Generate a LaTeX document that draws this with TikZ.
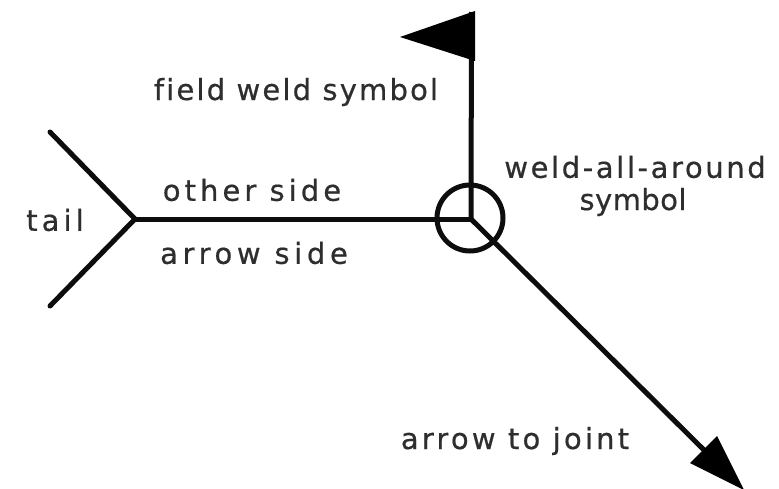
\documentclass[tikz,border=0pt]{standalone}
\usepackage{fontspec}
\setmainfont[Ligatures=NoCommon]{DejaVu Sans}
\newcommand{\spaced}[1]{\addfontfeature{LetterSpace=#1,FakeBold=0.6}}
\begin{document}
\begin{tikzpicture}[x=1pt,y=-1pt,
  weld/.style={line width=5pt,draw=black!95},
  lbl/.style={inner sep=0pt,font=\fontsize{29}{32}\selectfont,text=black!82,anchor=center},
  tip/.style={fill=black,draw=none}]
\useasboundingbox (0,0) rectangle (779,488);
\coordinate (center) at (471,219);
\coordinate (fork) at (135,219);
\coordinate (tailtop) at (50,132);
\coordinate (tailbot) at (50,306);
\coordinate (pole) at (471.5,12);
\coordinate (poleflagtop) at (475,11);
\coordinate (poleflag) at (475,61);
\coordinate (flagtip) at (400,37);
\coordinate (arrowend) at (744,490);
\coordinate (arrowbase) at (704,450);
\draw[weld,line cap=round] (tailtop) -- (fork) -- (tailbot);
\draw[weld] (fork) -- (center);
\draw[weld] (center) -- (pole);
\draw[weld] (center) -- (arrowbase);
\node[draw=black!95,line width=5pt,circle,minimum size=66pt,inner sep=0pt] (ring) at (470,218) {};
\fill[tip] (poleflagtop) -- (flagtip) -- (poleflag) -- cycle;
\fill[tip] (arrowend) -- (690,463) -- (717,436) -- cycle;
\node[lbl] (t1) at (296,92) {\spaced{7.5}field weld symbol};
\node[lbl] (t2) at (635,167) {\spaced{9}weld-all-around};
\node[lbl] (t3) at (633,202) {\spaced{1.5}symbol};
\node[lbl] (t4) at (252,190) {\spaced{14}other side};
\node[lbl] (t5) at (254,253) {\spaced{16}arrow side};
\node[lbl] (t6) at (55,220) {\spaced{14}tail};
\node[lbl] (t7) at (515,441) {\spaced{11}arrow to joint};
\end{tikzpicture}
\end{document}
